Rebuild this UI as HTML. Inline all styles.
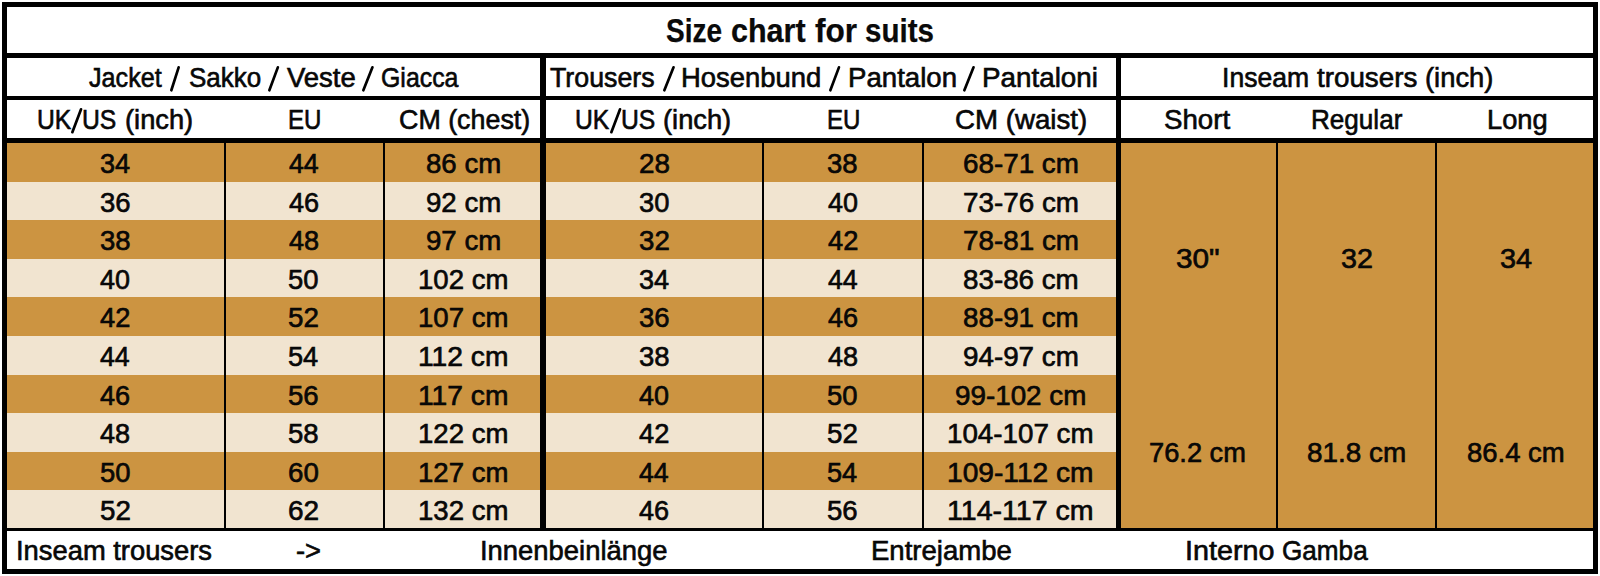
<!DOCTYPE html>
<html><head><meta charset="utf-8"><style>
html,body{margin:0;padding:0;background:#fff;}
body{width:1600px;height:576px;position:relative;overflow:hidden;font-family:"Liberation Sans",sans-serif;color:#0a0a0a;}
.r{position:absolute;}
.t{position:absolute;white-space:nowrap;line-height:1;transform-origin:0 0;-webkit-text-stroke:0.6px #000;}
</style></head><body>
<div class="r" style="left:7px;top:143.0px;width:1109.00px;height:38.60px;background:#CC9441"></div>
<div class="r" style="left:7px;top:181.6px;width:1109.00px;height:38.60px;background:#F1E4D0"></div>
<div class="r" style="left:7px;top:220.2px;width:1109.00px;height:38.60px;background:#CC9441"></div>
<div class="r" style="left:7px;top:258.8px;width:1109.00px;height:38.60px;background:#F1E4D0"></div>
<div class="r" style="left:7px;top:297.4px;width:1109.00px;height:38.60px;background:#CC9441"></div>
<div class="r" style="left:7px;top:336.0px;width:1109.00px;height:38.60px;background:#F1E4D0"></div>
<div class="r" style="left:7px;top:374.6px;width:1109.00px;height:38.60px;background:#CC9441"></div>
<div class="r" style="left:7px;top:413.2px;width:1109.00px;height:38.60px;background:#F1E4D0"></div>
<div class="r" style="left:7px;top:451.8px;width:1109.00px;height:38.60px;background:#CC9441"></div>
<div class="r" style="left:7px;top:490.40000000000003px;width:1109.00px;height:38.60px;background:#F1E4D0"></div>
<div class="r" style="left:1121px;top:143px;width:472.00px;height:386.00px;background:#CC9441"></div>
<div class="r" style="left:2px;top:2px;width:1596.00px;height:5.00px;background:#000"></div>
<div class="r" style="left:2px;top:569px;width:1596.00px;height:5.00px;background:#000"></div>
<div class="r" style="left:2px;top:2px;width:5.00px;height:572.00px;background:#000"></div>
<div class="r" style="left:1593px;top:2px;width:5.00px;height:572.00px;background:#000"></div>
<div class="r" style="left:2px;top:53px;width:1596.00px;height:5.00px;background:#000"></div>
<div class="r" style="left:2px;top:96px;width:1596.00px;height:4.00px;background:#000"></div>
<div class="r" style="left:2px;top:138px;width:1596.00px;height:5.00px;background:#000"></div>
<div class="r" style="left:2px;top:528px;width:1596.00px;height:3.00px;background:#000"></div>
<div class="r" style="left:540px;top:57px;width:6.00px;height:473.00px;background:#000"></div>
<div class="r" style="left:1116px;top:57px;width:5.00px;height:473.00px;background:#000"></div>
<div class="r" style="left:224px;top:143px;width:2.00px;height:387.00px;background:#000"></div>
<div class="r" style="left:383px;top:143px;width:2.00px;height:387.00px;background:#000"></div>
<div class="r" style="left:762px;top:143px;width:2.00px;height:387.00px;background:#000"></div>
<div class="r" style="left:922px;top:143px;width:2.00px;height:387.00px;background:#000"></div>
<div class="r" style="left:1276px;top:143px;width:2.00px;height:387.00px;background:#000"></div>
<div class="r" style="left:1435px;top:143px;width:2.00px;height:387.00px;background:#000"></div>
<span class="t" style="left:666.12px;top:15.07px;font-size:32.4px;font-weight:bold;-webkit-text-stroke:0.25px #000;transform:scaleX(0.8643)">Size</span>
<span class="t" style="left:730.71px;top:15.07px;font-size:32.4px;font-weight:bold;-webkit-text-stroke:0.25px #000;transform:scaleX(0.9424)">chart</span>
<span class="t" style="left:814.76px;top:15.07px;font-size:32.4px;font-weight:bold;-webkit-text-stroke:0.25px #000;transform:scaleX(0.9743)">for</span>
<span class="t" style="left:865.47px;top:15.07px;font-size:32.4px;font-weight:bold;-webkit-text-stroke:0.25px #000;transform:scaleX(0.9113)">suits</span>
<span class="t" style="left:88.62px;top:64.39px;font-size:27.3px;transform:scaleX(0.9221)">Jacket</span>
<span class="t" style="left:188.83px;top:64.39px;font-size:27.3px;transform:scaleX(0.9521)">Sakko</span>
<span class="t" style="left:287.39px;top:64.39px;font-size:27.3px;transform:scaleX(1.0075)">Veste</span>
<span class="t" style="left:381.26px;top:64.39px;font-size:27.3px;transform:scaleX(0.9113)">Giacca</span>
<svg class="r" style="left:170px;top:65.8px;overflow:visible" width="10.00" height="25.60"><line x1="1.35" y1="24.25" x2="8.65" y2="1.35" stroke="#000" stroke-width="2.7" stroke-linecap="round"/></svg>
<svg class="r" style="left:267.5px;top:65.8px;overflow:visible" width="11.20" height="25.60"><line x1="1.35" y1="24.25" x2="9.85" y2="1.35" stroke="#000" stroke-width="2.7" stroke-linecap="round"/></svg>
<svg class="r" style="left:361.9px;top:65.8px;overflow:visible" width="11.80" height="25.60"><line x1="1.35" y1="24.25" x2="10.45" y2="1.35" stroke="#000" stroke-width="2.7" stroke-linecap="round"/></svg>
<span class="t" style="left:550.01px;top:64.39px;font-size:27.3px;transform:scaleX(0.9809)">Trousers</span>
<span class="t" style="left:681.45px;top:64.39px;font-size:27.3px;transform:scaleX(1.0048)">Hosenbund</span>
<span class="t" style="left:847.74px;top:64.39px;font-size:27.3px;transform:scaleX(1.0116)">Pantalon</span>
<span class="t" style="left:982.12px;top:64.39px;font-size:27.3px;transform:scaleX(1.0185)">Pantaloni</span>
<svg class="r" style="left:662.5px;top:65.8px;overflow:visible" width="11.90" height="25.60"><line x1="1.35" y1="24.25" x2="10.55" y2="1.35" stroke="#000" stroke-width="2.7" stroke-linecap="round"/></svg>
<svg class="r" style="left:828.7px;top:65.8px;overflow:visible" width="11.30" height="25.60"><line x1="1.35" y1="24.25" x2="9.95" y2="1.35" stroke="#000" stroke-width="2.7" stroke-linecap="round"/></svg>
<svg class="r" style="left:963.1px;top:65.8px;overflow:visible" width="11.90" height="25.60"><line x1="1.35" y1="24.25" x2="10.55" y2="1.35" stroke="#000" stroke-width="2.7" stroke-linecap="round"/></svg>
<span class="t" style="left:1221.96px;top:64.39px;font-size:27.3px;transform:scaleX(0.9727)">Inseam</span>
<span class="t" style="left:1316.78px;top:64.39px;font-size:27.3px;transform:scaleX(1.0173)">trousers</span>
<span class="t" style="left:1425.20px;top:64.39px;font-size:27.3px;transform:scaleX(1.0032)">(inch)</span>
<span class="t" style="left:36.60px;top:106.39px;font-size:27.3px;transform:scaleX(0.9038)">UK</span>
<svg class="r" style="left:71.2px;top:107.8px;overflow:visible" width="11.40" height="25.50"><line x1="1.35" y1="24.15" x2="10.05" y2="1.35" stroke="#000" stroke-width="2.7" stroke-linecap="round"/></svg>
<span class="t" style="left:82.30px;top:106.39px;font-size:27.3px;transform:scaleX(0.9049)">US</span>
<span class="t" style="left:124.51px;top:106.39px;font-size:27.3px;transform:scaleX(0.9986)">(inch)</span>
<span class="t" style="left:575.00px;top:106.39px;font-size:27.3px;transform:scaleX(0.9038)">UK</span>
<svg class="r" style="left:609.6px;top:107.8px;overflow:visible" width="11.40" height="25.50"><line x1="1.35" y1="24.15" x2="10.05" y2="1.35" stroke="#000" stroke-width="2.7" stroke-linecap="round"/></svg>
<span class="t" style="left:620.70px;top:106.39px;font-size:27.3px;transform:scaleX(0.9049)">US</span>
<span class="t" style="left:662.91px;top:106.39px;font-size:27.3px;transform:scaleX(0.9986)">(inch)</span>
<span class="t" style="left:288.23px;top:106.39px;font-size:27.3px;transform:scaleX(0.8808)">EU</span>
<span class="t" style="left:398.66px;top:106.39px;font-size:27.3px;transform:scaleX(0.9830)">CM (chest)</span>
<span class="t" style="left:827.03px;top:106.39px;font-size:27.3px;transform:scaleX(0.8808)">EU</span>
<span class="t" style="left:954.52px;top:106.39px;font-size:27.3px;transform:scaleX(1.0137)">CM (waist)</span>
<span class="t" style="left:1163.85px;top:106.39px;font-size:27.3px;transform:scaleX(1.0137)">Short</span>
<span class="t" style="left:1310.66px;top:106.39px;font-size:27.3px;transform:scaleX(0.9556)">Regular</span>
<span class="t" style="left:1486.56px;top:106.39px;font-size:27.3px;transform:scaleX(0.9995)">Long</span>
<span class="t" style="left:99.79px;top:150.09px;font-size:27.3px;transform:scaleX(0.9943)">34</span>
<span class="t" style="left:288.93px;top:150.09px;font-size:27.3px;transform:scaleX(0.9793)">44</span>
<span class="t" style="left:426.11px;top:150.09px;font-size:27.3px;transform:scaleX(1.0114)">86 cm</span>
<span class="t" style="left:638.62px;top:150.09px;font-size:27.3px;transform:scaleX(1.0197)">28</span>
<span class="t" style="left:827.47px;top:150.09px;font-size:27.3px;transform:scaleX(1.0078)">38</span>
<span class="t" style="left:962.84px;top:150.09px;font-size:27.3px;transform:scaleX(1.0188)">68-71 cm</span>
<span class="t" style="left:99.77px;top:188.69px;font-size:27.3px;transform:scaleX(1.0078)">36</span>
<span class="t" style="left:288.92px;top:188.69px;font-size:27.3px;transform:scaleX(0.9924)">46</span>
<span class="t" style="left:426.03px;top:188.69px;font-size:27.3px;transform:scaleX(1.0126)">92 cm</span>
<span class="t" style="left:638.98px;top:188.69px;font-size:27.3px;transform:scaleX(1.0030)">30</span>
<span class="t" style="left:827.92px;top:188.69px;font-size:27.3px;transform:scaleX(0.9877)">40</span>
<span class="t" style="left:962.82px;top:188.69px;font-size:27.3px;transform:scaleX(1.0191)">73-76 cm</span>
<span class="t" style="left:99.77px;top:227.29px;font-size:27.3px;transform:scaleX(1.0078)">38</span>
<span class="t" style="left:288.92px;top:227.29px;font-size:27.3px;transform:scaleX(0.9924)">48</span>
<span class="t" style="left:426.03px;top:227.29px;font-size:27.3px;transform:scaleX(1.0126)">97 cm</span>
<span class="t" style="left:638.96px;top:227.29px;font-size:27.3px;transform:scaleX(1.0147)">32</span>
<span class="t" style="left:827.92px;top:227.29px;font-size:27.3px;transform:scaleX(0.9991)">42</span>
<span class="t" style="left:962.82px;top:227.29px;font-size:27.3px;transform:scaleX(1.0191)">78-81 cm</span>
<span class="t" style="left:100.22px;top:265.89px;font-size:27.3px;transform:scaleX(0.9877)">40</span>
<span class="t" style="left:288.42px;top:265.89px;font-size:27.3px;transform:scaleX(1.0049)">50</span>
<span class="t" style="left:418.03px;top:265.89px;font-size:27.3px;transform:scaleX(1.0102)">102 cm</span>
<span class="t" style="left:638.99px;top:265.89px;font-size:27.3px;transform:scaleX(0.9943)">34</span>
<span class="t" style="left:827.93px;top:265.89px;font-size:27.3px;transform:scaleX(0.9793)">44</span>
<span class="t" style="left:963.04px;top:265.89px;font-size:27.3px;transform:scaleX(1.0171)">83-86 cm</span>
<span class="t" style="left:100.22px;top:304.49px;font-size:27.3px;transform:scaleX(0.9991)">42</span>
<span class="t" style="left:288.41px;top:304.49px;font-size:27.3px;transform:scaleX(1.0167)">52</span>
<span class="t" style="left:418.03px;top:304.49px;font-size:27.3px;transform:scaleX(1.0102)">107 cm</span>
<span class="t" style="left:638.97px;top:304.49px;font-size:27.3px;transform:scaleX(1.0078)">36</span>
<span class="t" style="left:827.92px;top:304.49px;font-size:27.3px;transform:scaleX(0.9924)">46</span>
<span class="t" style="left:963.04px;top:304.49px;font-size:27.3px;transform:scaleX(1.0171)">88-91 cm</span>
<span class="t" style="left:100.23px;top:343.09px;font-size:27.3px;transform:scaleX(0.9793)">44</span>
<span class="t" style="left:288.43px;top:343.09px;font-size:27.3px;transform:scaleX(0.9962)">54</span>
<span class="t" style="left:417.98px;top:343.09px;font-size:27.3px;transform:scaleX(1.0346)">112 cm</span>
<span class="t" style="left:638.97px;top:343.09px;font-size:27.3px;transform:scaleX(1.0078)">38</span>
<span class="t" style="left:827.92px;top:343.09px;font-size:27.3px;transform:scaleX(0.9924)">48</span>
<span class="t" style="left:962.96px;top:343.09px;font-size:27.3px;transform:scaleX(1.0178)">94-97 cm</span>
<span class="t" style="left:100.22px;top:381.69px;font-size:27.3px;transform:scaleX(0.9924)">46</span>
<span class="t" style="left:288.41px;top:381.69px;font-size:27.3px;transform:scaleX(1.0098)">56</span>
<span class="t" style="left:417.98px;top:381.69px;font-size:27.3px;transform:scaleX(1.0346)">117 cm</span>
<span class="t" style="left:639.42px;top:381.69px;font-size:27.3px;transform:scaleX(0.9877)">40</span>
<span class="t" style="left:827.42px;top:381.69px;font-size:27.3px;transform:scaleX(1.0049)">50</span>
<span class="t" style="left:955.17px;top:381.69px;font-size:27.3px;transform:scaleX(1.0185)">99-102 cm</span>
<span class="t" style="left:100.22px;top:420.29px;font-size:27.3px;transform:scaleX(0.9924)">48</span>
<span class="t" style="left:288.41px;top:420.29px;font-size:27.3px;transform:scaleX(1.0098)">58</span>
<span class="t" style="left:418.03px;top:420.29px;font-size:27.3px;transform:scaleX(1.0102)">122 cm</span>
<span class="t" style="left:639.42px;top:420.29px;font-size:27.3px;transform:scaleX(0.9991)">42</span>
<span class="t" style="left:827.41px;top:420.29px;font-size:27.3px;transform:scaleX(1.0167)">52</span>
<span class="t" style="left:947.17px;top:420.29px;font-size:27.3px;transform:scaleX(1.0165)">104-107 cm</span>
<span class="t" style="left:99.72px;top:458.89px;font-size:27.3px;transform:scaleX(1.0049)">50</span>
<span class="t" style="left:288.13px;top:458.89px;font-size:27.3px;transform:scaleX(1.0147)">60</span>
<span class="t" style="left:418.03px;top:458.89px;font-size:27.3px;transform:scaleX(1.0102)">127 cm</span>
<span class="t" style="left:639.43px;top:458.89px;font-size:27.3px;transform:scaleX(0.9793)">44</span>
<span class="t" style="left:827.43px;top:458.89px;font-size:27.3px;transform:scaleX(0.9962)">54</span>
<span class="t" style="left:947.14px;top:458.89px;font-size:27.3px;transform:scaleX(1.0313)">109-112 cm</span>
<span class="t" style="left:99.71px;top:497.49px;font-size:27.3px;transform:scaleX(1.0167)">52</span>
<span class="t" style="left:288.12px;top:497.49px;font-size:27.3px;transform:scaleX(1.0268)">62</span>
<span class="t" style="left:418.03px;top:497.49px;font-size:27.3px;transform:scaleX(1.0102)">132 cm</span>
<span class="t" style="left:639.42px;top:497.49px;font-size:27.3px;transform:scaleX(0.9924)">46</span>
<span class="t" style="left:827.41px;top:497.49px;font-size:27.3px;transform:scaleX(1.0098)">56</span>
<span class="t" style="left:947.11px;top:497.49px;font-size:27.3px;transform:scaleX(1.0468)">114-117 cm</span>
<span class="t" style="left:1176.37px;top:244.89px;font-size:27.3px;transform:scaleX(1.0907)">30"</span>
<span class="t" style="left:1340.91px;top:244.89px;font-size:27.3px;transform:scaleX(1.0517)">32</span>
<span class="t" style="left:1499.60px;top:244.89px;font-size:27.3px;transform:scaleX(1.0586)">34</span>
<span class="t" style="left:1149.11px;top:439.39px;font-size:27.3px;transform:scaleX(0.9985)">76.2 cm</span>
<span class="t" style="left:1306.90px;top:439.39px;font-size:27.3px;transform:scaleX(1.0228)">81.8 cm</span>
<span class="t" style="left:1466.52px;top:439.39px;font-size:27.3px;transform:scaleX(1.0068)">86.4 cm</span>
<span class="t" style="left:16.23px;top:536.89px;font-size:27.3px;transform:scaleX(1.0015)">Inseam trousers</span>
<span class="t" style="left:296.30px;top:536.89px;font-size:27.3px;transform:scaleX(0.9990)">-&gt;</span>
<span class="t" style="left:479.98px;top:536.89px;font-size:27.3px;transform:scaleX(1.0040)">Innenbeinlänge</span>
<span class="t" style="left:870.54px;top:536.89px;font-size:27.3px;transform:scaleX(1.0090)">Entrejambe</span>
<span class="t" style="left:1184.86px;top:536.89px;font-size:27.3px;transform:scaleX(1.0522)">Interno</span>
<span class="t" style="left:1281.79px;top:536.89px;font-size:27.3px;transform:scaleX(0.9571)">Gamba</span>
</body></html>
